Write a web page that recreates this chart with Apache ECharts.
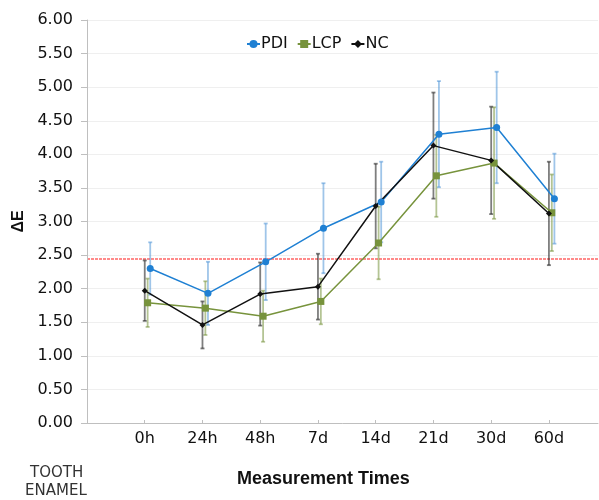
<!DOCTYPE html>
<html>
<head>
	<meta charset="UTF-8">
	<script src="https://cdn.jsdelivr.net/npm/echarts@6/dist/echarts.min.js"></script>
	<style>
		body { margin: 0; padding: 0; background: #fff; }
		#chart { width: 599px; height: 500px; }
	</style>
</head>
<body>
	<div id="chart"></div>
	<script>
		// 数据
		var categories = ['0h', '24h', '48h', '7d', '14d', '21d', '30d', '60d'];
		var pdiMean = [2.30, 1.93, 2.40, 2.90, 3.29, 4.30, 4.40, 3.34];
		var pdiSd = [0.39, 0.47, 0.57, 0.67, 0.60, 0.79, 0.83, 0.67];
		var lcpMean = [1.79, 1.71, 1.59, 1.81, 2.68, 3.68, 3.87, 3.13];
		var lcpSd = [0.36, 0.40, 0.38, 0.34, 0.54, 0.61, 0.83, 0.57];
		var ncMean = [1.97, 1.46, 1.92, 2.03, 3.23, 4.13, 3.91, 3.12];
		var ncSd = [0.45, 0.35, 0.47, 0.49, 0.63, 0.79, 0.80, 0.77];
		var refValue = 2.44;

		var groups = [
			{ name: 'PDI', mean: pdiMean, sd: pdiSd, color: '#1f80d3', bar: 'rgba(80,150,215,0.55)', symbol: 'circle', size: 7, dodge: 0.095 },
			{ name: 'LCP', mean: lcpMean, sd: lcpSd, color: '#77933c', bar: 'rgba(119,147,60,0.55)', symbol: 'rect', size: 7, dodge: 0.05 },
			{ name: 'NC', mean: ncMean, sd: ncSd, color: '#111111', bar: 'rgba(40,40,40,0.6)', symbol: 'diamond', size: 6, dodge: 0 }
		];

		var series = [];
		// 参考线（红色虚线）
		series.push({
			type: 'custom',
			name: 'ref',
			silent: true,
			z: 0,
			data: [[0, refValue]],
			renderItem: function (params, api) {
				var p = api.coord([0, api.value(1)]);
				var cs = params.coordSys;
				return {
					type: 'line',
					shape: { x1: cs.x, y1: Math.round(p[1]), x2: cs.x + cs.width, y2: Math.round(p[1]) },
					style: { stroke: 'rgba(255,60,60,0.6)', lineWidth: 2, lineDash: [3, 1] }
				};
			}
		});
		groups.forEach(function (g) {
			var pts = g.mean.map(function (v, i) { return [i + 1 + g.dodge, v]; });
			// 误差线
			series.push({
				type: 'custom',
				name: g.name + '-err',
				silent: true,
				z: 1,
				data: g.mean.map(function (v, i) { return [i + 1 + g.dodge, v - g.sd[i], v + g.sd[i]]; }),
				renderItem: function (params, api) {
					var lo = api.coord([api.value(0), api.value(1)]);
					var hi = api.coord([api.value(0), api.value(2)]);
					var st = { stroke: g.bar, lineWidth: 1.8 };
					return {
						type: 'group',
						children: [
							{ type: 'line', shape: { x1: lo[0], y1: lo[1], x2: hi[0], y2: hi[1] }, style: st },
							{ type: 'line', shape: { x1: lo[0] - 2, y1: lo[1], x2: lo[0] + 2, y2: lo[1] }, style: st },
							{ type: 'line', shape: { x1: hi[0] - 2, y1: hi[1], x2: hi[0] + 2, y2: hi[1] }, style: st }
						]
					};
				}
			});
			series.push({
				type: 'line',
				name: g.name,
				z: 3,
				data: pts,
				symbol: g.symbol,
				symbolSize: g.size,
				itemStyle: { color: g.color },
				lineStyle: { color: g.color, width: 1.5 }
			});
		});

		var chart = echarts.init(document.getElementById('chart'));
		chart.setOption({
			animation: false,
			textStyle: { fontFamily: 'DejaVu Sans' },
			legend: {
				data: ['PDI', 'LCP', 'NC'],
				left: 241,
				top: 31,
				itemWidth: 13,
				itemHeight: 10,
				itemGap: 9,
				textStyle: { fontSize: 16, color: '#111', fontFamily: 'DejaVu Sans', padding: [0, 0, 0, -4] }
			},
			grid: { left: 87, right: 1, top: 20, bottom: 77 },
			xAxis: {
				type: 'value',
				min: 0,
				max: 8.85,
				interval: 1,
				axisLine: { lineStyle: { color: '#bfbfbf', width: 1 } },
				axisTick: { show: true, inside: true, length: 3, lineStyle: { color: '#bfbfbf' } },
				splitLine: { show: false },
				axisLabel: {
					fontSize: 16,
					color: '#111',
					margin: 8,
					showMaxLabel: false,
					formatter: function (v) { return categories[v - 1] || ''; }
				}
			},
			yAxis: {
				type: 'value',
				min: 0,
				max: 6,
				interval: 0.5,
				name: 'ΔE',
				nameLocation: 'middle',
				nameGap: 55,
				nameTextStyle: { fontSize: 16, fontWeight: 'bold', color: '#111', fontFamily: 'Liberation Sans' },
				axisLine: { show: true, lineStyle: { color: '#bfbfbf' } },
				axisTick: { show: true, length: 6, lineStyle: { color: '#bfbfbf' } },
				splitLine: { lineStyle: { color: '#efefef' } },
				axisLabel: {
					fontSize: 16,
					color: '#111',
					margin: 14,
					formatter: function (v) { return v.toFixed(2); }
				}
			},
			graphic: [
				{ type: 'text', left: 237, top: 470, style: { text: 'Measurement Times', font: 'bold 18px "Liberation Sans"', fill: '#111' } },
				{ type: 'text', left: 30, top: 466, style: { text: 'TOOTH', font: '15px "DejaVu Sans"', fill: '#333' } },
				{ type: 'text', left: 25, top: 484, style: { text: 'ENAMEL', font: '15px "DejaVu Sans"', fill: '#333' } }
			],
			series: series
		});
	</script>
</body>
</html>
